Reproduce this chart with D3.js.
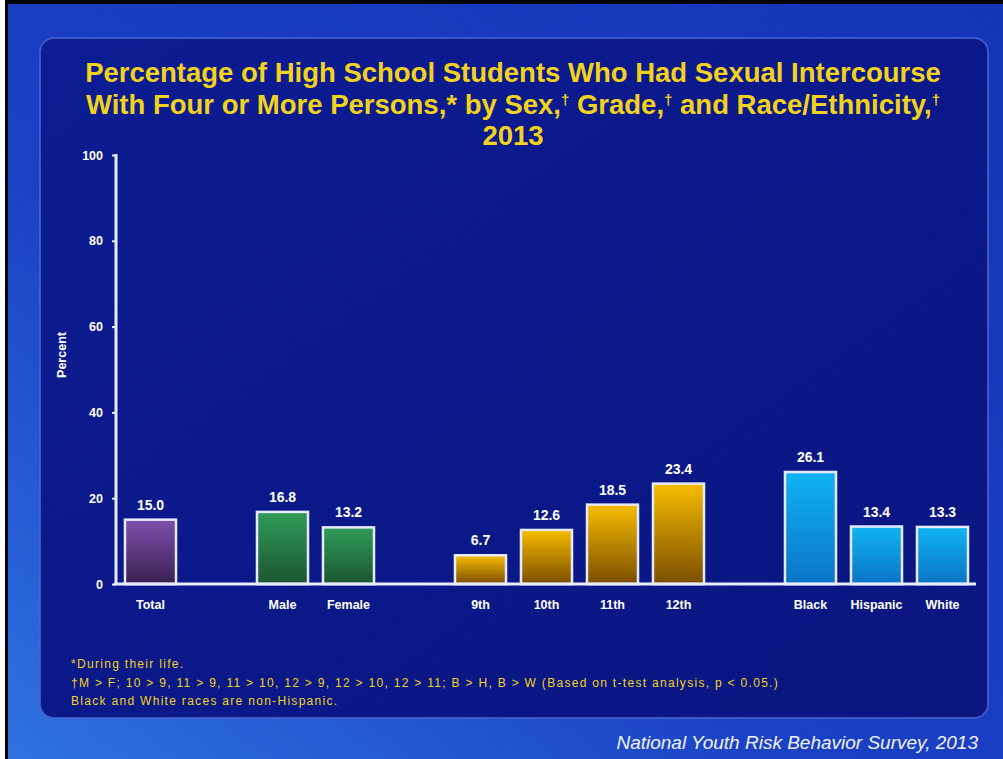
<!DOCTYPE html>
<html lang="en">
<head>
<meta charset="utf-8">
<title>Four or more partners, YRBS 2013</title>
<script src="https://d3js.org/d3.v7.min.js"></script>
<style>
  body { margin: 0; background: #fff; }
  svg { display: block; font-family: "Liberation Sans", Arial, sans-serif; }
  .title { fill: #f2d21c; font-weight: bold; font-size: 27.5px; text-anchor: middle; }
  .tick text { fill: #fff; font-weight: bold; font-size: 12.5px; }
  .vlabel { fill: #fff; font-weight: bold; font-size: 14px; text-anchor: middle; }
  .clabel { fill: #fff; font-weight: bold; font-size: 12.5px; text-anchor: middle; }
  .note { fill: #f2d21c; font-size: 12px; letter-spacing: 1.3px; }
</style>
</head>
<body>
<script>
// data
var categories = ["Total", "Male", "Female", "9th", "10th", "11th", "12th", "Black", "Hispanic", "White"];
var groups     = ["total", "sex", "sex", "grade", "grade", "grade", "grade", "race", "race", "race"];
var values     = [15.0, 16.8, 13.2, 6.7, 12.6, 18.5, 23.4, 26.1, 13.4, 13.3];
var yTicks     = [0, 20, 40, 60, 80, 100];
var titleLines = [
  "Percentage of High School Students Who Had Sexual Intercourse",
  "With Four or More Persons,* by Sex,\u2020 Grade,\u2020 and Race/Ethnicity,\u2020",
  "2013"
];
var notes = [
  "*During their life.",
  "\u2020M > F; 10 > 9, 11 > 9, 11 > 10, 12 > 9, 12 > 10, 12 > 11; B > H, B > W (Based on t-test analysis, p < 0.05.)",
  "Black and White races are non-Hispanic."
];
var source = "National Youth Risk Behavior Survey, 2013";

var W = 1003, H = 759;
var svg = d3.select("body").append("svg").attr("width", W).attr("height", H);
var defs = svg.append("defs");

// background gradients
var bg = defs.append("linearGradient").attr("id", "bg")
  .attr("x1", "0").attr("y1", "1").attr("x2", "1").attr("y2", "0");
bg.append("stop").attr("offset", "0").attr("stop-color", "#2f72e0");
bg.append("stop").attr("offset", "0.4").attr("stop-color", "#1a40c4");
bg.append("stop").attr("offset", "1").attr("stop-color", "#1535b8");

var panel = defs.append("linearGradient").attr("id", "panel")
  .attr("x1", "0").attr("y1", "0").attr("x2", "1").attr("y2", "1");
panel.append("stop").attr("offset", "0").attr("stop-color", "#0c1c92");
panel.append("stop").attr("offset", "1").attr("stop-color", "#0a1580");

// bar gradients per group
var barColors = {
  total: ["#7d4fae", "#3a2050"],
  sex:   ["#2f9c58", "#1b5530"],
  grade: ["#f7bd00", "#7a4d00"],
  race:  ["#10b4f2", "#0b74c6"]
};
Object.keys(barColors).forEach(function(k) {
  var g = defs.append("linearGradient").attr("id", "g-" + k)
    .attr("x1", "0").attr("y1", "0").attr("x2", "0").attr("y2", "1");
  g.append("stop").attr("offset", "0").attr("stop-color", barColors[k][0]);
  g.append("stop").attr("offset", "1").attr("stop-color", barColors[k][1]);
});

svg.append("rect").attr("x", 5).attr("y", 0).attr("width", W - 5).attr("height", H).attr("fill", "#000");
svg.append("rect").attr("x", 8).attr("y", 4).attr("width", W - 8).attr("height", H - 4).attr("fill", "url(#bg)");

svg.append("rect")
  .attr("x", 40).attr("y", 38).attr("width", 948).attr("height", 680)
  .attr("rx", 14)
  .attr("fill", "url(#panel)")
  .attr("stroke", "#4863d0").attr("stroke-width", 2).attr("stroke-opacity", 0.8);

// title, daggers set as small raised marks
var tl = svg.append("g").selectAll("text").data(titleLines).enter().append("text")
  .attr("class", "title")
  .attr("x", 513)
  .attr("y", function(d, i) { return 82 + i * 31.5; });
tl.each(function(d) {
  var t = d3.select(this);
  var back = 0;
  d.split(/(\u2020)/).forEach(function(part) {
    if (!part) return;
    if (part === "\u2020") {
      t.append("tspan").attr("font-size", "15px").attr("dy", -9).text(part);
      back = 9;
    } else {
      t.append("tspan").attr("dy", back).text(part);
      back = 0;
    }
  });
});

// band domain with a blank slot between groups
var slots = [];
categories.forEach(function(c, i) {
  if (i > 0 && groups[i] !== groups[i - 1]) slots.push("gap" + i);
  slots.push(c);
});

var x = d3.scaleBand().domain(slots).range([117.5, 975.5]).paddingInner(0.227).paddingOuter(0.1135);
var y = d3.scaleLinear().domain([0, 100]).range([584, 155]);

// y axis
var yAxis = svg.append("g").attr("transform", "translate(116,0)")
  .call(d3.axisLeft(y).tickValues(yTicks).tickSize(4).tickPadding(9));
yAxis.select(".domain").attr("stroke", "#e8ecff").attr("stroke-width", 3).attr("d", "M0," + y(0) + "V" + (y(100) - 1));
yAxis.selectAll(".tick line").attr("stroke", "#e8ecff").attr("stroke-width", 2);

svg.append("text")
  .attr("transform", "translate(66,355) rotate(-90)")
  .attr("text-anchor", "middle")
  .attr("fill", "#fff").attr("font-weight", "bold").attr("font-size", "12.5px")
  .text("Percent");

// bars
var bars = svg.append("g");
bars.selectAll("rect").data(values).enter().append("rect")
  .attr("x", function(d, i) { return x(categories[i]); })
  .attr("y", function(d) { return y(d); })
  .attr("width", x.bandwidth())
  .attr("height", function(d) { return y(0) - y(d); })
  .attr("fill", function(d, i) { return "url(#g-" + groups[i] + ")"; })
  .attr("stroke", "#e6eaff").attr("stroke-width", 2.5);

bars.selectAll(".vlabel").data(values).enter().append("text")
  .attr("class", "vlabel")
  .attr("x", function(d, i) { return x(categories[i]) + x.bandwidth() / 2; })
  .attr("y", function(d) { return y(d) - 10; })
  .text(function(d) { return d.toFixed(1); });

// x axis baseline
svg.append("line")
  .attr("x1", 114).attr("x2", 976)
  .attr("y1", y(0)).attr("y2", y(0))
  .attr("stroke", "#e8ecff").attr("stroke-width", 3);

svg.append("g").selectAll("text").data(categories).enter().append("text")
  .attr("class", "clabel")
  .attr("x", function(d) { return x(d) + x.bandwidth() / 2; })
  .attr("y", 609)
  .text(function(d) { return d; });

// footnotes
svg.append("g").selectAll("text").data(notes).enter().append("text")
  .attr("class", "note")
  .attr("x", 71)
  .attr("y", function(d, i) { return 668 + i * 18.5; })
  .text(function(d) { return d; });

svg.append("text")
  .attr("x", 978).attr("y", 749)
  .attr("text-anchor", "end")
  .attr("fill", "#f0f2ff").attr("font-style", "italic").attr("font-size", "19px")
  .text(source);
</script>
</body>
</html>
